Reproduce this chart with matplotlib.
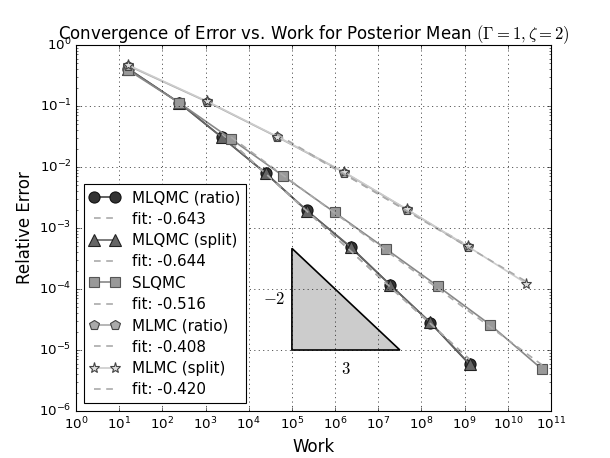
import numpy as np
import matplotlib
matplotlib.use("Agg")
import matplotlib.pyplot as plt
from matplotlib.patches import Polygon

plt.style.use("classic")
plt.rcParams["mathtext.fontset"] = "cm"
plt.rcParams["font.family"] = ["DejaVu Sans"]

# ---- data ----
x_mlqmc = [16, 2.45e2, 2.4e3, 2.45e4, 2.2e5, 2.3e6, 1.9e7, 1.6e8, 1.3e9]
y_mlqmc_ratio = [0.41, 0.113, 0.0307, 0.0079, 0.00195, 0.00048, 0.000117, 2.8e-5, 5.8e-6]
y_mlqmc_split = [0.41, 0.113, 0.0305, 0.0080, 0.00193, 0.00049, 0.000116, 2.85e-5, 5.9e-6]

x_slqmc = [16, 2.45e2, 3.9e3, 6.2e4, 9.8e5, 1.5e7, 2.45e8, 3.9e9, 6.3e10]
y_slqmc = [0.39, 0.113, 0.0288, 0.0072, 0.0018, 0.000455, 0.00011, 2.6e-5, 4.8e-6]

x_mlmc_split = [16, 1.07e3, 4.6e4, 1.65e6, 4.6e7, 1.18e9, 2.7e10]
y_mlmc_split = [0.47, 0.12, 0.0315, 0.0082, 0.00203, 0.0005, 0.000123]
x_mlmc_ratio = [16, 1.07e3, 4.6e4, 1.65e6, 4.6e7, 1.18e9]
y_mlmc_ratio = [0.46, 0.118, 0.031, 0.0081, 0.00201, 0.00049]

labels = ["MLQMC (ratio)", "MLQMC (split)", "SLQMC", "MLMC (ratio)", "MLMC (split)"]
fit_labels = ["fit: -0.643", "fit: -0.644", "fit: -0.516", "fit: -0.408", "fit: -0.420"]

tri_x = [1e5, 1e5 * 10 ** 2.5]
tri_y = [1e-5, 1e-5 * 10 ** (5.0 / 3.0)]

series = [
    (x_mlqmc, y_mlqmc_ratio, dict(marker="o", ms=10, mfc="#333333", mec="#111111", color="#444444")),
    (x_mlqmc, y_mlqmc_split, dict(marker="^", ms=10, mfc="#666666", mec="#222222", color="#666666")),
    (x_slqmc, y_slqmc, dict(marker="s", ms=9, mfc="#999999", mec="#555555", color="#888888")),
    (x_mlmc_ratio, y_mlmc_ratio, dict(marker="p", ms=9, mfc="#aaaaaa", mec="#444444", color="#aaaaaa")),
    (x_mlmc_split, y_mlmc_split, dict(marker="*", ms=10, mfc="#dddddd", mec="#444444", color="#cccccc")),
]

fig = plt.figure(figsize=(7.625, 5.725), dpi=80, facecolor="white")
ax = fig.add_axes([0.1246, 0.1026, 0.7787, 0.7991])
ax.set_facecolor("white")

for (xs, ys, st), lab, flab in zip(series, labels, fit_labels):
    ax.loglog(xs, ys, lw=1.5, mew=1.0, label=lab, **st)
    lx = np.log10(xs[2:])
    ly = np.log10(ys[2:])
    p = np.polyfit(lx, ly, 1)
    xf = np.array([lx[0], lx[-1]])
    ax.loglog(10 ** xf, 10 ** np.polyval(p, xf), ls="--", color="#aaaaaa",
              lw=1.5, dashes=(6, 5), label=flab)

tri = Polygon([[tri_x[0], tri_y[0]], [tri_x[0], tri_y[1]], [tri_x[1], tri_y[0]]],
              closed=True, facecolor="#cccccc", edgecolor="black", lw=1.5, zorder=1)
ax.add_patch(tri)
ax.text(tri_x[0] / 1.45, 10 ** ((np.log10(tri_y[0]) + np.log10(tri_y[1])) / 2), r"$-2$",
        ha="right", va="center", fontsize=15)
ax.text(10 ** ((np.log10(tri_x[0]) + np.log10(tri_x[1])) / 2), tri_y[0] / 1.45, r"$3$",
        ha="center", va="top", fontsize=15)

ax.set_xlim(1e0, 1e11)
ax.set_ylim(1e-6, 1e0)
ax.grid(True, which="major", ls=":", color="k", lw=0.6)
ax.set_xlabel("Work", fontsize=15)
ax.set_ylabel("Relative Error", fontsize=15)
ax.set_title(r"Convergence of Error vs. Work for Posterior Mean $(\Gamma=1,\zeta=2)$",
             fontsize=15)
ax.tick_params(labelsize=12)

leg = ax.legend(loc="lower left", numpoints=2, fontsize=13.6, borderaxespad=0.5,
                labelspacing=0.42, fancybox=False, frameon=True)
leg.get_frame().set_edgecolor("black")
leg.get_frame().set_linewidth(1.0)

fig.savefig("out.png", dpi=80, facecolor="white")
